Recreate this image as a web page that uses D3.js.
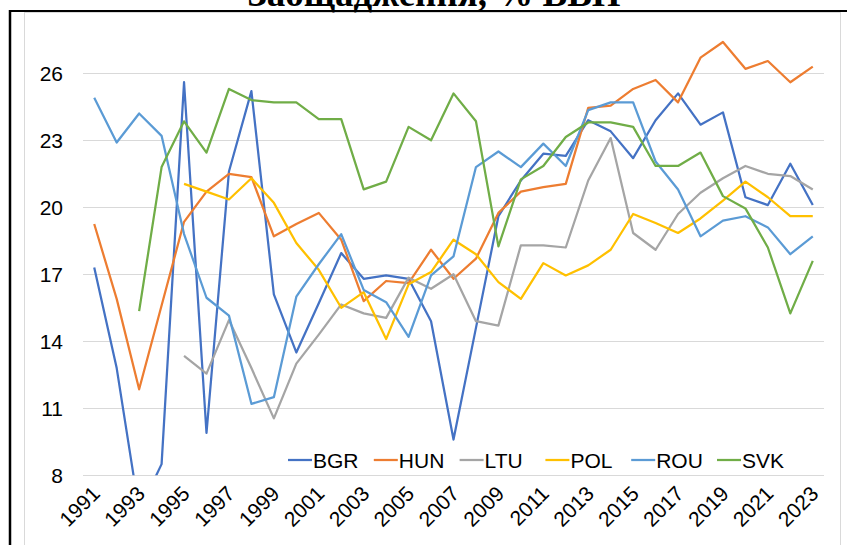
<!DOCTYPE html>
<html>
<head>
<meta charset="utf-8">
<script src="https://cdn.jsdelivr.net/npm/d3@7"></script>
<style>
  body { margin: 0; background: #fff; }
  svg { display: block; }
  text { font-family: "Liberation Sans", Arial, sans-serif; fill: #000; }
</style>
</head>
<body>
<svg id="chart" width="847" height="545"></svg>
<script>
// savings, % of GDP
var years = d3.range(1991, 2024);
var yTicks = [8, 11, 14, 17, 20, 23, 26];
var countries = ["BGR", "HUN", "LTU", "POL", "ROU", "SVK"];
var colors = ["#4472C4", "#ED7D31", "#A5A5A5", "#FFC000", "#5B9BD5", "#70AD47"];

var bgr = [17.3, 12.8, 6.4, 8.5, 25.6, 9.9, 21.6, 25.2, 16.1, 13.5, 15.7, 17.95, 16.8, 16.95, 16.8, 14.9, 9.6, 14.6,
  19.6, 21.2, 22.4, 22.3, 23.9, 23.4, 22.2, 23.9, 25.1, 23.7, 24.25, 20.45, 20.1, 21.95, 20.1];
var hun = [19.25, 15.9, 11.85, 15.6, 19.35, 20.7, 21.5, 21.35, 18.7, 19.25, 19.75, 18.55, 15.8, 16.7, 16.6, 18.1, 16.8, 17.7,
  19.75, 20.7, 20.9, 21.05, 24.45, 24.55, 25.3, 25.7, 24.7, 26.7, 27.4, 26.2, 26.55, 25.6, 26.3];
var ltu = [null, null, null, null, 13.35, 12.55, 14.95, 12.8, 10.55, 13.0, 14.3, 15.65, 15.25, 15.05, 16.85, 16.35, 17.0, 14.9,
  14.7, 18.3, 18.3, 18.2, 21.2, 23.1, 18.85, 18.1, 19.7, 20.65, 21.3, 21.85, 21.5, 21.4, 20.8];
var pol = [null, null, null, null, 21.05, 20.7, 20.35, 21.3, 20.2, 18.4, 17.2, 15.5, 16.2, 14.1, 16.55, 17.1, 18.55, 17.9,
  16.65, 15.9, 17.5, 16.95, 17.4, 18.1, 19.7, 19.3, 18.85, 19.5, 20.3, 21.15, 20.45, 19.6, 19.6];
var rou = [24.9, 22.9, 24.2, 23.2, 18.8, 15.95, 15.15, 11.2, 11.5, 16.0, 17.45, 18.8, 16.3, 15.75, 14.2, 16.95, 17.8, 21.8,
  22.5, 21.8, 22.85, 21.85, 24.35, 24.7, 24.7, 22.05, 20.8, 18.7, 19.4, 19.6, 19.1, 17.9, 18.7];
var svk = [null, null, 15.35, 21.8, 23.85, 22.45, 25.3, 24.8, 24.7, 24.7, 23.95, 23.95, 20.8, 21.15, 23.6, 23.0, 25.1, 23.85,
  18.25, 21.25, 21.85, 23.15, 23.8, 23.8, 23.6, 21.85, 21.85, 22.45, 20.5, 19.95, 18.2, 15.25, 17.6];

var series = [bgr, hun, ltu, pol, rou, svk];

var svg = d3.select("#chart");

// page frame and chart border
svg.append("rect").attr("x", 24.5).attr("y", 12.5).attr("width", 816).attr("height", 560)
  .attr("fill", "#fff").attr("stroke", "#d9d9d9").attr("stroke-width", 1);
svg.append("line").attr("x1", 10).attr("x2", 847).attr("y1", 11).attr("y2", 11)
  .attr("stroke", "#000").attr("stroke-width", 2);
svg.append("line").attr("x1", 10).attr("x2", 10).attr("y1", 10).attr("y2", 545)
  .attr("stroke", "#000").attr("stroke-width", 2.5);

// title, cut off at the top of the picture as in the source
svg.append("text").attr("x", 434).attr("y", 6).attr("text-anchor", "middle")
  .style("font-family", "'Liberation Serif', 'Times New Roman', serif")
  .style("font-weight", "bold").style("font-size", "37px")
  .text("Заощадження, % ВВП");

var x = d3.scaleBand().domain(years).range([83, 824]).padding(0);
var y = d3.scaleLinear().domain([8, 26]).range([475.3, 73.3]);
var cx = function(yr){ return x(yr) + x.bandwidth() / 2; };

// gridlines
svg.append("g").selectAll("line").data(yTicks).join("line")
  .attr("x1", 83).attr("x2", 824)
  .attr("y1", function(d){ return Math.round(y(d)) + 0.5; })
  .attr("y2", function(d){ return Math.round(y(d)) + 0.5; })
  .attr("stroke", "#d9d9d9").attr("stroke-width", 1);

// y axis labels
var yAxis = svg.append("g").attr("transform", "translate(83,0)")
  .call(d3.axisLeft(y).tickValues(yTicks).tickSize(0).tickPadding(20));
yAxis.select(".domain").remove();
yAxis.selectAll("text").style("font-size", "21px").style("font-family", "'Liberation Sans', Arial, sans-serif")
  .attr("fill", "#000");

// x axis labels, every second year
var xAxis = svg.append("g").attr("transform", "translate(0,475)")
  .call(d3.axisBottom(x).tickValues(years.filter(function(d){ return (d - 1991) % 2 === 0; }))
    .tickSize(0).tickPadding(0));
xAxis.select(".domain").remove();
xAxis.selectAll("text")
  .style("font-size", "21px").style("font-family", "'Liberation Sans', Arial, sans-serif")
  .attr("fill", "#000")
  .attr("text-anchor", "end")
  .attr("dy", null).attr("y", 0)
  .attr("transform", "translate(7,20) rotate(-45)");

// clip lines to plot area (BGR drops below the axis min)
svg.append("clipPath").attr("id", "plotclip").append("rect")
  .attr("x", 83).attr("y", 12).attr("width", 741).attr("height", 463.3);

var line = d3.line()
  .defined(function(d){ return d != null; })
  .x(function(d, i){ return cx(years[i]); })
  .y(function(d){ return y(d); });

svg.append("g").attr("clip-path", "url(#plotclip)")
  .selectAll("path").data(series).join("path")
  .attr("d", line)
  .attr("fill", "none")
  .attr("stroke", function(d, i){ return colors[i]; })
  .attr("stroke-width", 2.25)
  .attr("stroke-linejoin", "round");

// legend
var legend = svg.append("g").selectAll("g").data(countries).join("g")
  .attr("transform", function(d, i){ return "translate(" + (288 + i * 85.8) + ",460)"; });
legend.append("line").attr("x1", 0).attr("x2", 24).attr("y1", 0).attr("y2", 0)
  .attr("stroke", function(d, i){ return colors[i]; }).attr("stroke-width", 2.25);
legend.append("text").attr("x", 25).attr("y", 7.5)
  .style("font-size", "21px")
  .text(function(d){ return d; });
</script>
</body>
</html>
